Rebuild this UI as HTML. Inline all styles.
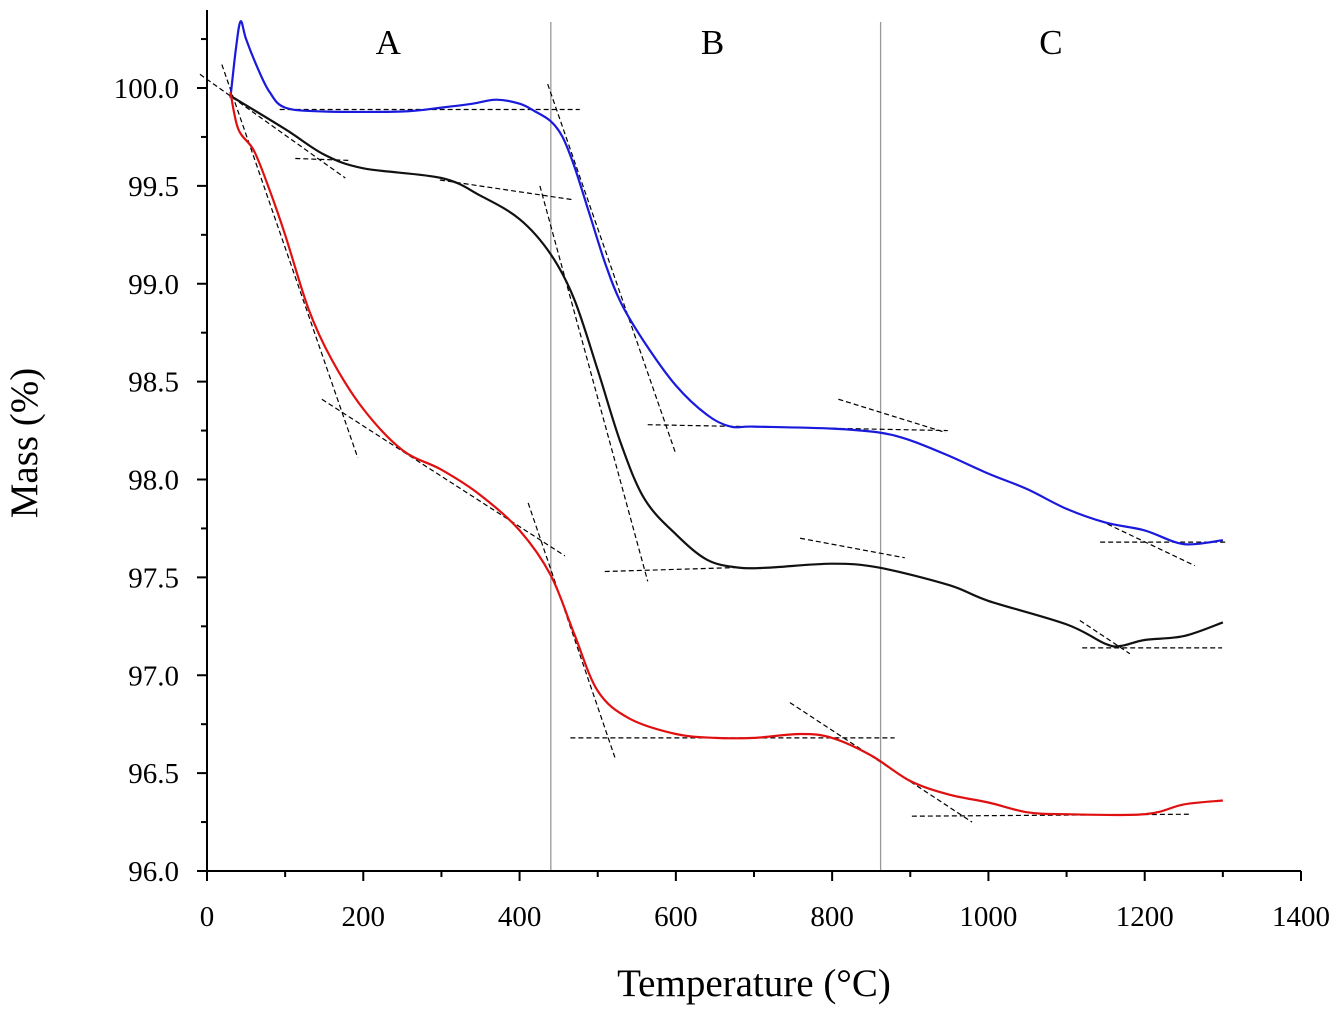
<!DOCTYPE html>
<html><head><meta charset="utf-8"><style>
html,body{margin:0;padding:0;background:#fff;}
svg{display:block;font-family:"Liberation Serif",serif;}
</style></head><body>
<svg id="chart" width="1341" height="1012" viewBox="0 0 1341 1012" xmlns="http://www.w3.org/2000/svg"></svg>
<script>
const xTicks=[0,200,400,600,800,1000,1200,1400];
const yTicks=[96.0,96.5,97.0,97.5,98.0,98.5,99.0,99.5,100.0];
const regionBounds=[440,862];
const regionLabels=["A","B","C"];
const regionLabelT=[232,647,1080];
const blueT=[30,37,43,50,65,80,100,150,250,300,340,370,400,420,440,455,470,490,510,530,560,600,640,670,700,800,860,900,950,1000,1050,1100,1150,1200,1250,1300];
const blueM=[99.95,100.2,100.34,100.25,100.1,99.98,99.9,99.88,99.88,99.9,99.92,99.94,99.92,99.88,99.83,99.75,99.6,99.35,99.1,98.9,98.7,98.48,98.33,98.27,98.27,98.26,98.24,98.2,98.12,98.03,97.95,97.85,97.78,97.74,97.67,97.69];
const blackT=[30,100,150,200,300,350,400,440,470,500,530,560,600,640,680,720,800,860,950,1000,1100,1150,1170,1200,1250,1300];
const blackM=[99.96,99.79,99.66,99.59,99.54,99.45,99.33,99.15,98.92,98.56,98.18,97.9,97.72,97.59,97.55,97.55,97.57,97.55,97.46,97.38,97.26,97.16,97.15,97.18,97.2,97.27];
const redT=[30,40,60,80,100,130,160,200,250,300,350,400,440,470,500,540,600,650,700,760,800,850,900,950,1000,1050,1100,1200,1250,1300];
const redM=[99.98,99.79,99.68,99.48,99.25,98.87,98.61,98.36,98.15,98.05,97.92,97.74,97.51,97.21,96.92,96.78,96.7,96.68,96.68,96.7,96.68,96.59,96.46,96.39,96.35,96.3,96.29,96.29,96.34,96.36];
// tangent segments: [t1,m1,t2,m2]
const tangents=[
[93,99.89,477,99.89],[436,100.02,600,98.13],[564,98.28,948,98.25],[808,98.41,945,98.24],[1143,97.68,1303,97.68],[1143,97.79,1264,97.56],
[-9,100.07,177,99.54],[113,99.64,183,99.63],[298,99.53,467,99.43],[426,99.5,564,97.48],[509,97.53,676,97.55],[759,97.7,893,97.6],[1120,97.14,1299,97.14],[1117,97.28,1181,97.11],
[19,100.12,193,98.11],[147,98.41,458,97.61],[411,97.88,522,96.58],[465,96.68,880,96.68],[746,96.86,979,96.25],[902,96.28,1258,96.29]
];
const NS="http://www.w3.org/2000/svg";
const svg=document.getElementById('chart');
const X0=207,PXU=(1301-207)/1400,Y0=871,PYU=(871-88)/4;
function xs(t){return X0+t*PXU;}
function ys(m){return Y0-(m-96)*PYU;}
function mk(tag,attrs,parent){const e=document.createElementNS(NS,tag);for(const k in attrs)e.setAttribute(k,attrs[k]);(parent||svg).appendChild(e);return e;}
regionBounds.forEach((t,i)=>{
  const l=mk('line',{x1:xs(t),x2:xs(t),y1:22,y2:Y0,stroke:'#999','stroke-width':1.3});
  
  
});
regionLabels.forEach((s,i)=>{
  const t=mk('text',{x:xs(regionLabelT[i]),y:54,'font-size':35,'text-anchor':'middle'});
  t.textContent=s;
  
  
});
const ax=mk('path',{d:`M${X0},10 V${Y0} H1301`,stroke:'#000','stroke-width':2,fill:'none'});


for(let t=0;t<=1400;t+=100){const maj=t%200===0;mk('line',{x1:xs(t),x2:xs(t),y1:Y0,y2:Y0+(maj?10:6),stroke:'#000','stroke-width':2});}
xTicks.forEach(t=>{const e=mk('text',{x:xs(t),y:Y0+55,'font-size':29,'text-anchor':'middle'});e.textContent=t;
  
  });
for(let m=96;m<=100.3;m+=0.25){const maj=Math.abs(m*2-Math.round(m*2))<1e-6;mk('line',{x1:X0,x2:X0-(maj?10:6),y1:ys(m),y2:ys(m),stroke:'#000','stroke-width':2});}
yTicks.forEach(m=>{const e=mk('text',{x:X0-28,y:ys(m)+10,'font-size':29,'text-anchor':'end'});e.textContent=m.toFixed(1);
  
  });
const xt=mk('text',{x:754,y:996,'font-size':39,'text-anchor':'middle'});xt.textContent='Temperature (°C)';


const yt=mk('text',{x:0,y:0,'font-size':39,'text-anchor':'middle',transform:'translate(37,443) rotate(-90)'});yt.textContent='Mass (%)';


tangents.forEach(s=>{
  const l=mk('line',{x1:xs(s[0]),y1:ys(s[1]),x2:xs(s[2]),y2:ys(s[3]),stroke:'#000','stroke-width':1.2,'stroke-dasharray':'5,3'});
  
  
});
function series(T,M,color,name){
  const P=T.map((t,i)=>[xs(t),ys(M[i])]);
  let d='M'+P[0][0].toFixed(1)+','+P[0][1].toFixed(1);
  for(let i=0;i<P.length-1;i++){
    const p0=P[Math.max(0,i-1)],p1=P[i],p2=P[i+1],p3=P[Math.min(P.length-1,i+2)];
    const c1=[p1[0]+(p2[0]-p0[0])/6,p1[1]+(p2[1]-p0[1])/6];
    const c2=[p2[0]-(p3[0]-p1[0])/6,p2[1]-(p3[1]-p1[1])/6];
    d+=` C${c1[0].toFixed(1)},${c1[1].toFixed(1)} ${c2[0].toFixed(1)},${c2[1].toFixed(1)} ${p2[0].toFixed(1)},${p2[1].toFixed(1)}`;
  }
  const p=mk('path',{d:d,stroke:color,'stroke-width':2.2,fill:'none','stroke-linejoin':'round'});
  
  
}
series(blueT,blueM,'#1a1adc','blue-series');
series(blackT,blackM,'#111','black-series');
series(redT,redM,'#e01010','red-series');
</script>
</body></html>
